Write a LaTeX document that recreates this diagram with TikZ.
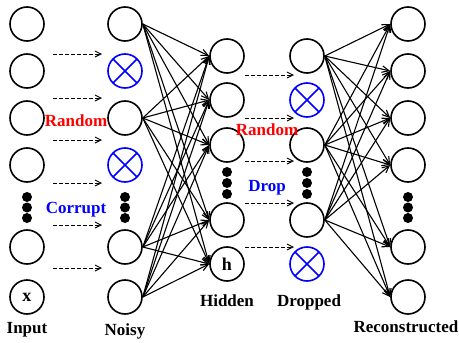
\documentclass[tikz,border=0pt]{standalone}
\usepackage{fontspec}
\setmainfont{Liberation Serif}
\usetikzlibrary{arrows.meta}
\begin{document}
\begin{tikzpicture}[x=1pt,y=-1pt,
  lab/.style={font=\bfseries\fontsize{17}{20}\selectfont, inner sep=0pt, anchor=base},
  neuron/.style={circle,draw,line width=1.6pt,minimum size=34pt,inner sep=0pt,font=\bfseries\fontsize{18}{20}\selectfont},
  droppedn/.style={neuron,draw=blue,outer sep=0pt},
  crossline/.style={blue,line width=1.6pt},
  dotn/.style={circle,fill,minimum size=10pt,inner sep=0pt},
  conn/.style={line width=1.1pt,-{Straight Barb[length=7pt,width=6.5pt]}},
  dconn/.style={line width=0.9pt,-{Straight Barb[length=6pt,width=6pt]},dash pattern=on 3.5pt off 2.5pt}]
\useasboundingbox (0,0) rectangle (459,343);

% Input column
\node[neuron] (i1) at (27,24) {};
\node[neuron] (i2) at (27,71) {};
\node[neuron] (i3) at (27,118) {};
\node[neuron] (i4) at (27,165) {};
\node[dotn] (id1) at (27,197) {};
\node[dotn] (id2) at (27,207.5) {};
\node[dotn] (id3) at (27,218) {};
\node[neuron] (i5) at (27,247) {};
\node[neuron] (i6) at (27,297) {x};
\node[lab] (linput) at (27,333) {Input};

% Noisy column
\node[neuron] (n1) at (125,24) {};
\node[droppedn] (n2) at (125,71) {};
\node[neuron] (n3) at (125,118) {};
\node[droppedn] (n4) at (125,165) {};
\node[dotn] (nd1) at (125,197) {};
\node[dotn] (nd2) at (125,207.5) {};
\node[dotn] (nd3) at (125,218) {};
\node[neuron] (n5) at (125,247) {};
\node[neuron] (n6) at (125,297) {};
\node[lab] (lnoisy) at (125,335) {Noisy};
\foreach \c in {n2,n4}{
  \draw[crossline] (\c.north west) -- (\c.south east) (\c.north east) -- (\c.south west);
}

% Hidden column
\node[neuron] (h1) at (227,56) {};
\node[neuron] (h2) at (227,100) {};
\node[neuron] (h3) at (227,145) {};
\node[dotn] (hd1) at (227,172) {};
\node[dotn] (hd2) at (227,183) {};
\node[dotn] (hd3) at (227,194) {};
\node[neuron] (h4) at (227,220) {};
\node[neuron] (h5) at (227,264) {h};
\node[lab] (lhidden) at (227,306) {Hidden};

% Dropped column
\node[neuron] (d1) at (307,56) {};
\node[droppedn] (d2) at (307,100) {};
\node[neuron] (d3) at (307,145) {};
\node[dotn] (dd1) at (307,172) {};
\node[dotn] (dd2) at (307,183) {};
\node[dotn] (dd3) at (307,194) {};
\node[neuron] (d4) at (307,220) {};
\node[droppedn] (d5) at (307,264) {};
\node[lab] (ldropped) at (309,306) {Dropped};
\foreach \c in {d2,d5}{
  \draw[crossline] (\c.north west) -- (\c.south east) (\c.north east) -- (\c.south west);
}

% Reconstructed column
\node[neuron] (r1) at (408,24) {};
\node[neuron] (r2) at (408,71) {};
\node[neuron] (r3) at (408,118) {};
\node[neuron] (r4) at (408,165) {};
\node[dotn] (rd1) at (408,197) {};
\node[dotn] (rd2) at (408,207.5) {};
\node[dotn] (rd3) at (408,218) {};
\node[neuron] (r5) at (408,247) {};
\node[neuron] (r6) at (408,297) {};
\node[lab] (lrec) at (406,332) {Reconstructed};

% Dashed arrows input -> noisy
\foreach \k/\y in {1/54,2/98,3/140,4/183,5/225,6/268}{
  \coordinate (ca\k) at (53,\y);
  \coordinate (cb\k) at (102,\y);
  \draw[dconn] (ca\k) -- (cb\k);
}
% Dashed arrows hidden -> dropped
\foreach \k/\y in {1/75,2/118,3/161,4/203,5/247}{
  \coordinate (ce\k) at (245,\y);
  \coordinate (cf\k) at (294,\y);
  \draw[dconn] (ce\k) -- (cf\k);
}

% Noisy -> hidden
\foreach \s in {n1,n3,n5,n6}{
  \foreach \t in {h1,h2,h3,h4,h5}{
    \draw[conn] (\s.east) -- (\t.west);
  }
}
% Dropped -> reconstructed
\foreach \s in {d1,d3,d4}{
  \foreach \t in {r1,r2,r3,r4,r5,r6}{
    \draw[conn] (\s.east) -- (\t.west);
  }
}

% Labels
\node[lab,text=red] (lrand1) at (76,126) {Random};
\node[lab,text=blue] (lcorr) at (76,213) {Corrupt};
\node[lab,text=red] (lrand2) at (267,135) {Random};
\node[lab,text=blue] (ldrop) at (267,191) {Drop};
\end{tikzpicture}
\end{document}
